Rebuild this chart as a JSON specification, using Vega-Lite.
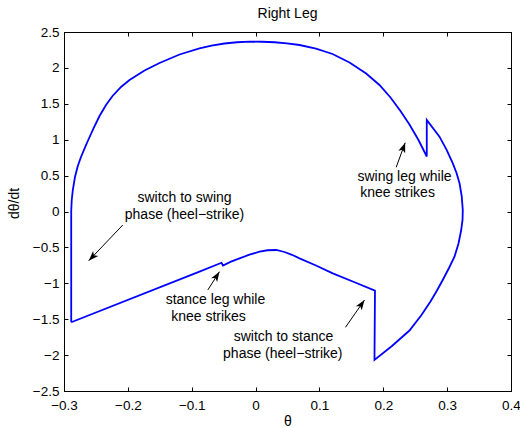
{
  "$schema": "https://vega.github.io/schema/vega-lite/v6.json",
  "width": 447,
  "height": 359,
  "autosize": {"type": "none"},
  "padding": {"left": 64, "top": 32, "right": 9, "bottom": 36},
  "background": "white",
  "config": {
    "view": {"stroke": "black", "strokeWidth": 1},
    "font": "Liberation Sans",
    "axis": {
      "grid": false,
      "domainColor": "black",
      "tickColor": "black",
      "labelColor": "black",
      "titleColor": "black",
      "labelFont": "Liberation Sans",
      "titleFont": "Liberation Sans",
      "labelFontSize": 13.5,
      "titleFontSize": 14,
      "titleFontWeight": "normal",
      "tickSize": -4,
      "labelFlush": false,
      "labelOverlap": false
    }
  },
  "title": {
    "text": "Right Leg",
    "font": "Liberation Sans",
    "fontSize": 14,
    "fontWeight": "normal",
    "color": "black",
    "baseline": "alphabetic",
    "offset": 12,
    "dy": 19
  },
  "datasets": {
    "curve": [
      {"i": 1, "theta": -0.2887, "dtheta": -1.543},
      {"i": 2, "theta": -0.2887, "dtheta": 0.007},
      {"i": 3, "theta": -0.2879, "dtheta": 0.160},
      {"i": 4, "theta": -0.2862, "dtheta": 0.299},
      {"i": 5, "theta": -0.2828, "dtheta": 0.480},
      {"i": 6, "theta": -0.2784, "dtheta": 0.634},
      {"i": 7, "theta": -0.2734, "dtheta": 0.759},
      {"i": 8, "theta": -0.2679, "dtheta": 0.877},
      {"i": 9, "theta": -0.2624, "dtheta": 0.989},
      {"i": 10, "theta": -0.2538, "dtheta": 1.156},
      {"i": 11, "theta": -0.2444, "dtheta": 1.330},
      {"i": 12, "theta": -0.2342, "dtheta": 1.483},
      {"i": 13, "theta": -0.2240, "dtheta": 1.609},
      {"i": 14, "theta": -0.2107, "dtheta": 1.734},
      {"i": 15, "theta": -0.1974, "dtheta": 1.831},
      {"i": 16, "theta": -0.1739, "dtheta": 1.964},
      {"i": 17, "theta": -0.1504, "dtheta": 2.068},
      {"i": 18, "theta": -0.1191, "dtheta": 2.187},
      {"i": 19, "theta": -0.0878, "dtheta": 2.273},
      {"i": 20, "theta": -0.0690, "dtheta": 2.311},
      {"i": 21, "theta": -0.0487, "dtheta": 2.340},
      {"i": 22, "theta": -0.0291, "dtheta": 2.357},
      {"i": 23, "theta": -0.0095, "dtheta": 2.365},
      {"i": 24, "theta": 0.0101, "dtheta": 2.364},
      {"i": 25, "theta": 0.0297, "dtheta": 2.357},
      {"i": 26, "theta": 0.0492, "dtheta": 2.341},
      {"i": 27, "theta": 0.0688, "dtheta": 2.319},
      {"i": 28, "theta": 0.0946, "dtheta": 2.269},
      {"i": 29, "theta": 0.1205, "dtheta": 2.194},
      {"i": 30, "theta": 0.1471, "dtheta": 2.075},
      {"i": 31, "theta": 0.1732, "dtheta": 1.922},
      {"i": 32, "theta": 0.1940, "dtheta": 1.762},
      {"i": 33, "theta": 0.2113, "dtheta": 1.588},
      {"i": 34, "theta": 0.2269, "dtheta": 1.400},
      {"i": 35, "theta": 0.2410, "dtheta": 1.212},
      {"i": 36, "theta": 0.2551, "dtheta": 0.996},
      {"i": 37, "theta": 0.2681, "dtheta": 0.766},
      {"i": 38, "theta": 0.2681, "dtheta": 1.274},
      {"i": 39, "theta": 0.2880, "dtheta": 1.042},
      {"i": 40, "theta": 0.2990, "dtheta": 0.863},
      {"i": 41, "theta": 0.3089, "dtheta": 0.671},
      {"i": 42, "theta": 0.3147, "dtheta": 0.536},
      {"i": 43, "theta": 0.3194, "dtheta": 0.393},
      {"i": 44, "theta": 0.3228, "dtheta": 0.216},
      {"i": 45, "theta": 0.3245, "dtheta": 0.021},
      {"i": 46, "theta": 0.3241, "dtheta": -0.118},
      {"i": 47, "theta": 0.3220, "dtheta": -0.258},
      {"i": 48, "theta": 0.3178, "dtheta": -0.446},
      {"i": 49, "theta": 0.3115, "dtheta": -0.630},
      {"i": 50, "theta": 0.3029, "dtheta": -0.787},
      {"i": 51, "theta": 0.2935, "dtheta": -0.947},
      {"i": 52, "theta": 0.2841, "dtheta": -1.100},
      {"i": 53, "theta": 0.2739, "dtheta": -1.253},
      {"i": 54, "theta": 0.2598, "dtheta": -1.442},
      {"i": 55, "theta": 0.2410, "dtheta": -1.658},
      {"i": 56, "theta": 0.2136, "dtheta": -1.873},
      {"i": 57, "theta": 0.1862, "dtheta": -2.068},
      {"i": 58, "theta": 0.1870, "dtheta": -1.103},
      {"i": 59, "theta": 0.1541, "dtheta": -0.982},
      {"i": 60, "theta": 0.1209, "dtheta": -0.861},
      {"i": 61, "theta": 0.0946, "dtheta": -0.752},
      {"i": 62, "theta": 0.0688, "dtheta": -0.652},
      {"i": 63, "theta": 0.0570, "dtheta": -0.603},
      {"i": 64, "theta": 0.0453, "dtheta": -0.564},
      {"i": 65, "theta": 0.0323, "dtheta": -0.536},
      {"i": 66, "theta": 0.0187, "dtheta": -0.540},
      {"i": 67, "theta": 0.0062, "dtheta": -0.560},
      {"i": 68, "theta": -0.0095, "dtheta": -0.602},
      {"i": 69, "theta": -0.0251, "dtheta": -0.652},
      {"i": 70, "theta": -0.0385, "dtheta": -0.699},
      {"i": 71, "theta": -0.0510, "dtheta": -0.752},
      {"i": 72, "theta": -0.0534, "dtheta": -0.714},
      {"i": 73, "theta": -0.0878, "dtheta": -0.838},
      {"i": 74, "theta": -0.2887, "dtheta": -1.543}
    ],
    "arrows": [
      {"x": -0.2079, "y": -0.188, "hx": -0.2612, "hy": -0.685, "angle": 223.6},
      {"x": -0.0748, "y": -1.093, "hx": -0.0565, "hy": -0.838, "angle": 32.6},
      {"x": 0.1408, "y": -1.613, "hx": 0.1706, "hy": -1.233, "angle": 34.8},
      {"x": 0.2202, "y": 0.616, "hx": 0.2343, "hy": 0.958, "angle": 20.1}
    ],
    "notes": [
      {"label": "switch to swing", "x": -0.1113, "y": 0.184},
      {"label": "phase (heel−strike)", "x": -0.1113, "y": -0.049},
      {"label": "stance leg while", "x": -0.0628, "y": -1.233},
      {"label": "knee strikes", "x": -0.0737, "y": -1.465},
      {"label": "switch to stance", "x": 0.0437, "y": -1.744},
      {"label": "phase (heel−strike)", "x": 0.0426, "y": -1.985},
      {"label": "swing leg while", "x": 0.2332, "y": 0.485},
      {"label": "knee strikes", "x": 0.2223, "y": 0.253}
    ]
  },
  "resolve": {"axis": {"x": "independent", "y": "independent"}},
  "layer": [
    {
      "data": {"name": "curve"},
      "mark": {"type": "line", "color": "#0000ff", "strokeWidth": 1.8, "strokeJoin": "miter"},
      "encoding": {
        "x": {
          "field": "theta", "type": "quantitative",
          "scale": {"domain": [-0.3, 0.4], "nice": false, "zero": false},
          "axis": {
            "title": "θ",
            "values": [-0.3, -0.2, -0.1, 0, 0.1, 0.2, 0.3, 0.4],
            "format": "~g",
            "labelPadding": 11,
            "titleBaseline": "middle",
            "titleY": 30
          }
        },
        "y": {
          "field": "dtheta", "type": "quantitative",
          "scale": {"domain": [-2.5, 2.5], "nice": false, "zero": false},
          "axis": {
            "title": "dθ/dt",
            "values": [-2.5, -2, -1.5, -1, -0.5, 0, 0.5, 1, 1.5, 2, 2.5],
            "format": "~g",
            "labelPadding": 9,
            "titleX": -50,
            "titleY": 171,
            "titleBaseline": "middle"
          }
        },
        "order": {"field": "i", "type": "quantitative"}
      }
    },
    {
      "data": {"name": "arrows"},
      "mark": {"type": "rule", "color": "black", "strokeWidth": 1},
      "encoding": {
        "x": {"field": "x", "type": "quantitative", "axis": null},
        "y": {"field": "y", "type": "quantitative", "axis": null},
        "x2": {"field": "hx"},
        "y2": {"field": "hy"}
      }
    },
    {
      "data": {"name": "arrows"},
      "mark": {
        "type": "point",
        "shape": "M0,0L0.36,1L0,0.75L-0.36,1Z",
        "filled": true,
        "color": "black",
        "opacity": 1,
        "size": 400,
        "strokeWidth": 0
      },
      "encoding": {
        "x": {"field": "hx", "type": "quantitative", "axis": null},
        "y": {"field": "hy", "type": "quantitative", "axis": null},
        "angle": {"field": "angle", "type": "quantitative", "scale": null}
      }
    },
    {
      "data": {"name": "notes"},
      "mark": {
        "type": "text",
        "font": "Liberation Sans",
        "fontSize": 14,
        "color": "black",
        "align": "center",
        "baseline": "middle"
      },
      "encoding": {
        "x": {
          "field": "x", "type": "quantitative",
          "axis": {
            "orient": "top", "title": null, "labels": false,
            "values": [-0.3, -0.2, -0.1, 0, 0.1, 0.2, 0.3, 0.4]
          }
        },
        "y": {
          "field": "y", "type": "quantitative",
          "axis": {
            "orient": "right", "title": null, "labels": false,
            "values": [-2.5, -2, -1.5, -1, -0.5, 0, 0.5, 1, 1.5, 2, 2.5]
          }
        },
        "text": {"field": "label"}
      }
    }
  ]
}
